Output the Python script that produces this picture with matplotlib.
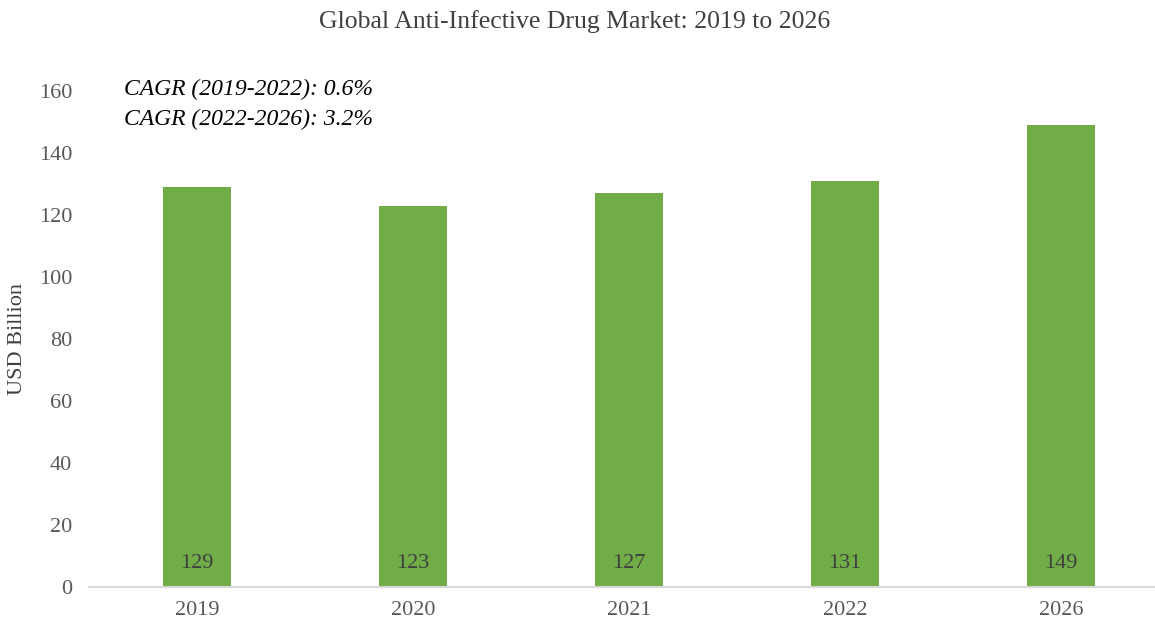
import matplotlib.pyplot as plt
import numpy as np

plt.rcParams['font.family'] = ['Liberation Serif', 'DejaVu Serif']

years = ['2019', '2020', '2021', '2022', '2026']
values = [129, 123, 127, 131, 149]
cagr_lines = ['CAGR (2019-2022): 0.6%', 'CAGR (2022-2026): 3.2%']

fig = plt.figure(figsize=(11.55, 6.2), dpi=100)
# axis spans a bit past the right edge, like the original crop
ax = fig.add_axes([89 / 1155, 33 / 620, 1080 / 1155, 496 / 620])

x = np.arange(len(years))
ax.bar(x, values, width=0.315, color='#70AD47', zorder=2)
for xi, v in zip(x, values):
    ax.text(xi, 7.7, str(v), ha='center', va='center', fontsize=16, color='#404040')

ax.set_xlim(-0.5, len(years) - 0.5)
ax.set_ylim(0, 160)
ax.set_yticks(range(0, 161, 20))
ax.set_xticks(x)
ax.set_xticklabels(years)
ax.tick_params(axis='both', length=0, labelsize=16, colors='#595959')
ax.tick_params(axis='y', pad=12)
ax.tick_params(axis='x', pad=10)

for s in ['top', 'right', 'left']:
    ax.spines[s].set_visible(False)
ax.spines['bottom'].set_color('#D9D9D9')
ax.spines['bottom'].set_linewidth(1.5)

fig.text(18 / 1155, 1 - 339 / 620, 'USD Billion', rotation=90, fontsize=16,
         color='#404040', ha='center', va='center')

fig.text(124 / 1155, 1 - 89 / 620, cagr_lines[0], fontsize=17, style='italic',
         color='black', va='center')
fig.text(124 / 1155, 1 - 119 / 620, cagr_lines[1], fontsize=17, style='italic',
         color='black', va='center')

fig.suptitle('Global Anti-Infective Drug Market: 2019 to 2026', x=575 / 1155,
             y=1 - 22 / 620, va='center', fontsize=18.5, color='#404040')

fig.savefig('out.png', dpi=100)
